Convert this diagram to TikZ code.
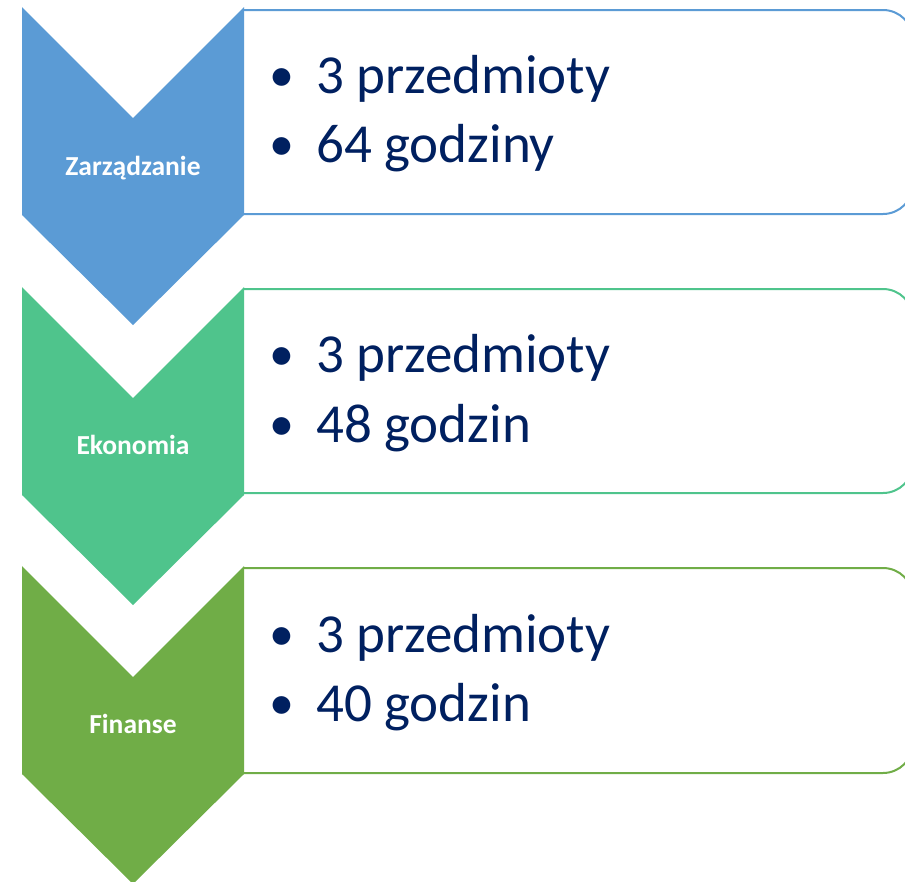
\documentclass[tikz,border=0pt]{standalone}
\usepackage{fontspec}
\setmainfont{Carlito}
\usepackage{tikz}
\usetikzlibrary{positioning}
\usepackage{xcolor}
\definecolor{zblue}{RGB}{91,155,213}
\definecolor{ekgreen}{RGB}{79,196,140}
\definecolor{fngreen}{RGB}{112,173,71}
\definecolor{navy}{RGB}{0,32,96}
\tikzstyle{box} = [line width=2pt,fill=white,rounded corners=30]
\tikzstyle{chev} = [draw=none]
\tikzstyle{lab} = [anchor=base,inner sep=0pt,text=white,font=\bfseries\fontsize{27.5}{30}\selectfont]
\tikzstyle{item} = [anchor=base west,inner sep=0pt,text=navy,font=\fontsize{55}{60}\selectfont]
\tikzstyle{dot} = [anchor=base,inner sep=0pt,text=navy,font=\fontsize{50}{60}\selectfont]

\begin{document}
\begin{tikzpicture}[x=1pt,y=-1pt]
\useasboundingbox (0,0) rectangle (905,881);
\clip (0,0) rectangle (905,881);

% Zarzadzanie - 64 godziny
\draw[box, draw=zblue] (244,10) -- (913,10) -- (913,214) -- (244,214);
\fill[chev, zblue] (22,7) -- (133,118) -- (244,7) -- (244,215) -- (133,325) -- (22,215) -- cycle;
\node[lab] (zarz) at (133,175) {Zarządzanie};
\node[dot] (zb1) at (282,91) {•};
\node[item] (zt1) at (316,93) {3 przedmioty};
\node[dot] (zb2) at (282,160) {•};
\node[item] (zt2) at (316,162) {64 godziny};

% Ekonomia - 48 godzin
\draw[box, draw=ekgreen] (244,289) -- (913,289) -- (913,493) -- (244,493);
\fill[chev, ekgreen] (22,287) -- (133,398) -- (244,287) -- (244,495) -- (133,605) -- (22,495) -- cycle;
\node[lab] (ekon) at (133,454) {Ekonomia};
\node[dot] (eb1) at (282,370) {•};
\node[item] (et1) at (316,372) {3 przedmioty};
\node[dot] (eb2) at (282,440) {•};
\node[item] (et2) at (316,442) {48 godzin};

% Finanse - 40 godzin
\draw[box, draw=fngreen] (244,568) -- (913,568) -- (913,773) -- (244,773);
\fill[chev, fngreen] (22,566) -- (133,677) -- (244,566) -- (244,774) -- (133,884) -- (22,774) -- cycle;
\node[lab] (fin) at (133,733) {Finanse};
\node[dot] (fb1) at (282,650) {•};
\node[item] (ft1) at (316,652) {3 przedmioty};
\node[dot] (fb2) at (282,719) {•};
\node[item] (ft2) at (316,721) {40 godzin};
\end{tikzpicture}
\end{document}
